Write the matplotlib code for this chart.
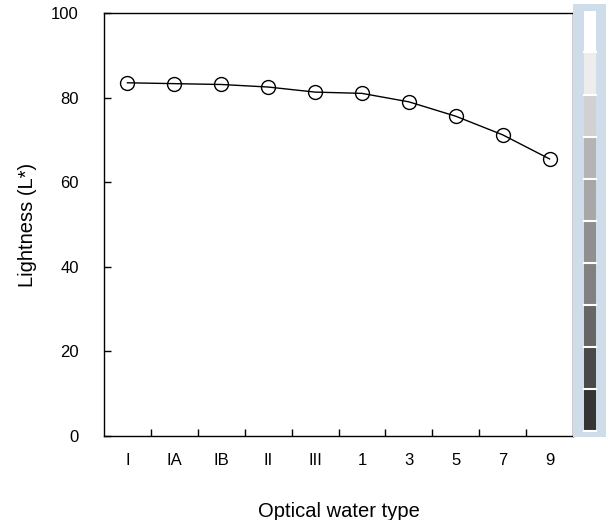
import matplotlib.pyplot as plt
import numpy as np

plt.rcParams['font.family'] = ['Liberation Sans', 'DejaVu Sans']

# data
water_types = ['I', 'IA', 'IB', 'II', 'III', '1', '3', '5', '7', '9']
lightness = [83.5, 83.3, 83.1, 82.5, 81.3, 81.0, 79.0, 75.6, 71.2, 65.5]
swatch_colors = ['#ffffff', '#ededed', '#d1d1d1', '#b4b4b4', '#a7a7a7',
                 '#8f8f8f', '#818181', '#666666', '#494949', '#343434']

fig = plt.figure(figsize=(6.08, 5.2), dpi=100)
ax = fig.add_axes([104 / 608, 84 / 520, 469 / 608, 423 / 520])

x = np.arange(len(water_types))
ax.plot(x, lightness, color='black', lw=1, marker='o', ms=10,
        mfc='none', mec='black', mew=1)

ax.set_xlim(-0.5, len(water_types) - 0.5)
ax.set_ylim(0, 100)
ax.set_xticks(x)
ax.set_xticklabels(water_types)
ax.set_xticks(np.arange(0.5, len(water_types) - 1, 1), minor=True)
ax.tick_params(axis='x', which='major', length=0, pad=12, labelsize=12)
ax.tick_params(axis='x', which='minor', direction='in', length=5, width=1)
ax.set_yticks(range(0, 101, 20))
ax.tick_params(axis='y', direction='in', length=5, width=1, pad=18, labelsize=12)
for s in ax.spines.values():
    s.set_linewidth(1)

ax.set_xlabel('Optical water type', fontsize=14.5, labelpad=25)
ax.set_ylabel('Lightness (L*)', fontsize=14.5, labelpad=10)

# grey scale strip on the right
cax = fig.add_axes([573 / 608, 83 / 520, 33 / 608, 433 / 520])
cax.set_facecolor('#cfdce9')
for s in cax.spines.values():
    s.set_visible(False)
cax.set_xticks([])
cax.set_yticks([])
cax.set_xlim(0, 33)
cax.set_ylim(437, 4)
top = 11
h = (432 - 11) / len(swatch_colors)
for i, c in enumerate(swatch_colors):
    cax.bar(17, h - 1.5, width=12, bottom=top + i * h, color=c,
            edgecolor='none')
    cax.plot([11, 23], [top + (i + 1) * h - 0.7] * 2, color='white', lw=1.5)

fig.savefig('out.png', dpi=100)
